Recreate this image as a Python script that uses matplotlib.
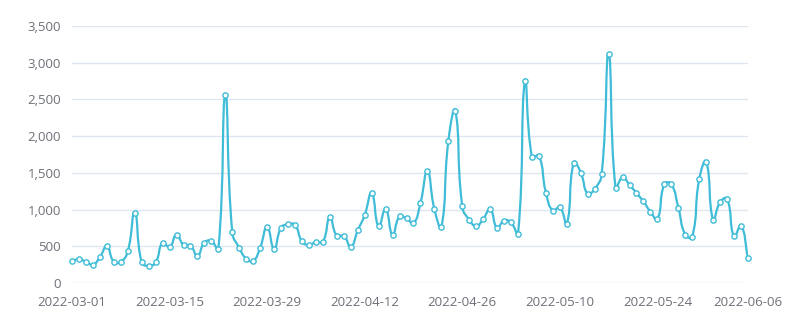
import numpy as np
import pandas as pd
import matplotlib
matplotlib.use('Agg')
import matplotlib.pyplot as plt
from matplotlib.path import Path
from matplotlib.patches import PathPatch

plt.rcParams['font.family'] = ['Open Sans', 'DejaVu Sans']

# daily values, 2022-03-01 .. 2022-06-06
datas = pd.date_range('2022-03-01', '2022-06-06', freq='D')
valores = [
    300, 325, 290, 250, 350, 500, 290, 290, 430, 960,
    280, 235, 280, 550, 490, 660, 520, 510, 370, 550,
    570, 460, 2560, 690, 480, 330, 300, 480, 765, 467,
    752, 800, 790, 566, 517, 560, 560, 893, 640, 643,
    494, 716, 925, 1224, 770, 1010, 657, 906, 879, 811,
    1088, 1523, 1006, 762, 1931, 2343, 1042, 861, 775, 870,
    1006, 752, 851, 824, 670, 2751, 1713, 1735, 1232, 983,
    1033, 806, 1640, 1504, 1214, 1282, 1482, 3118, 1292, 1441,
    1337, 1224, 1110, 970, 870, 1346, 1346, 1028, 657, 630,
    1414, 1650, 861, 1102, 1146, 634, 783, 335,
]
rotulos = [d.strftime('%Y-%m-%d') for d in datas]
yticks = [0, 500, 1000, 1500, 2000, 2500, 3000, 3500]

cor = '#3fbcd7'
cinza = '#6e7079'

fig = plt.figure(figsize=(8.03, 3.3), dpi=100)
ax = fig.add_axes([72 / 803, 47 / 330, 676 / 803, 257 / 330])
x = np.arange(len(valores))
y = np.array(valores, dtype=float)
ax.set_xlim(0, len(valores) - 1)
ax.set_ylim(0, 3500)

# suavizacao tipo echarts (bezier com pontos de controle pelos vizinhos)
pts = ax.transData.transform(np.column_stack([x, y]))
smooth = 0.5
verts = [pts[0]]
codes = [Path.MOVETO]
cps = []
for i in range(len(pts)):
    prev = pts[max(i - 1, 0)]
    nxt = pts[min(i + 1, len(pts) - 1)]
    cur = pts[i]
    v = nxt - prev
    lp = np.hypot(*(cur - prev))
    ln = np.hypot(*(nxt - cur))
    tot = lp + ln if lp + ln > 0 else 1
    cps.append((cur - v * smooth * lp / tot, cur + v * smooth * ln / tot))
for i in range(1, len(pts)):
    verts += [cps[i - 1][1], cps[i][0], pts[i]]
    codes += [Path.CURVE4] * 3
verts = ax.transData.inverted().transform(np.array(verts))
ax.add_patch(PathPatch(Path(verts, codes), fill=False, edgecolor=cor, lw=1.6, zorder=3))
ax.plot(x, y, 'o', ms=3.8, mfc='white', mec=cor, mew=1.0, zorder=4, clip_on=False)

ax.set_yticks(yticks)
ax.set_yticklabels([f'{v:,}' for v in yticks])
idx = list(range(0, len(valores) - 1, 14)) + [len(valores) - 1]
ax.set_xticks(idx)
ax.set_xticklabels([rotulos[i] for i in idx])
ax.tick_params(length=0, labelsize=9.5, colors=cinza)
ax.tick_params(axis='y', pad=8)
ax.tick_params(axis='x', pad=9)
ax.grid(axis='y', color='#e0e6f1', lw=1)
ax.set_axisbelow(True)
for s in ax.spines.values():
    s.set_visible(False)

fig.savefig('out.png', dpi=100)
